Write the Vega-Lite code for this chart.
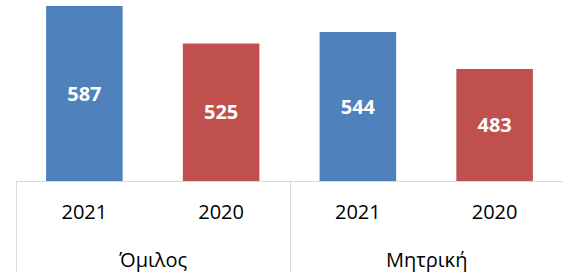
{
  "$schema": "https://vega.github.io/schema/vega-lite/v6.json",
  "width": 547,
  "height": 181,
  "padding": {"left": 15, "top": 0, "right": 0, "bottom": 0},
  "config": {"view": {"stroke": null}, "font": "Open Sans"},
  "data": {"values": [
    {"group": "Όμιλος", "year": "2021", "value": 587},
    {"group": "Όμιλος", "year": "2020", "value": 525},
    {"group": "Μητρική", "year": "2021", "value": 544},
    {"group": "Μητρική", "year": "2020", "value": 483}
  ]},
  "transform": [{"calculate": "datum.group + '|' + datum.year", "as": "key"}],
  "layer": [
    {
      "mark": {"type": "bar", "width": {"band": 1}},
      "encoding": {
        "x": {"field": "key", "type": "nominal", "sort": null,
          "scale": {"type": "band", "paddingInner": 0.44, "paddingOuter": 0.22},
          "axis": {"orient": "bottom", "title": null, "ticks": false, "domain": false,
            "labelExpr": "split(datum.label,'|')[1]", "labelFontSize": 20, "labelColor": "#000",
            "labelPadding": 37, "labelBaseline": "alphabetic", "labelAngle": 0}},
        "y": {"field": "value", "type": "quantitative",
          "scale": {"domain": [298, 597], "nice": false, "zero": false}, "axis": null},
        "y2": {"datum": 298},
        "color": {"field": "year", "type": "nominal",
          "scale": {"domain": ["2021", "2020"], "range": ["#4F81BD", "#C0504D"]}, "legend": null}
      }
    },
    {
      "mark": {"type": "text", "color": "white", "fontWeight": "bold", "fontSize": 20, "baseline": "middle", "dy": 1},
      "encoding": {
        "x": {"field": "group", "type": "nominal", "sort": ["Όμιλος", "Μητρική"],
          "scale": {"type": "band", "paddingInner": 0, "paddingOuter": 0},
          "axis": {"orient": "bottom", "title": null, "tickBand": "extent", "tickSize": 91,
            "tickColor": "#d9d9d9", "domainColor": "#d9d9d9", "labelFontSize": 20, "labelColor": "#000",
            "labelPadding": -6, "labelBaseline": "alphabetic", "labelAngle": 0}},
        "xOffset": {"field": "year", "type": "nominal", "sort": ["2021", "2020"]},
        "y": {"field": "value", "type": "quantitative",
          "scale": {"domain": [298, 896], "nice": false, "zero": false}, "axis": null},
        "text": {"field": "value", "type": "quantitative"}
      }
    }
  ],
  "resolve": {"scale": {"x": "independent", "y": "independent", "color": "independent", "xOffset": "independent"}}
}
